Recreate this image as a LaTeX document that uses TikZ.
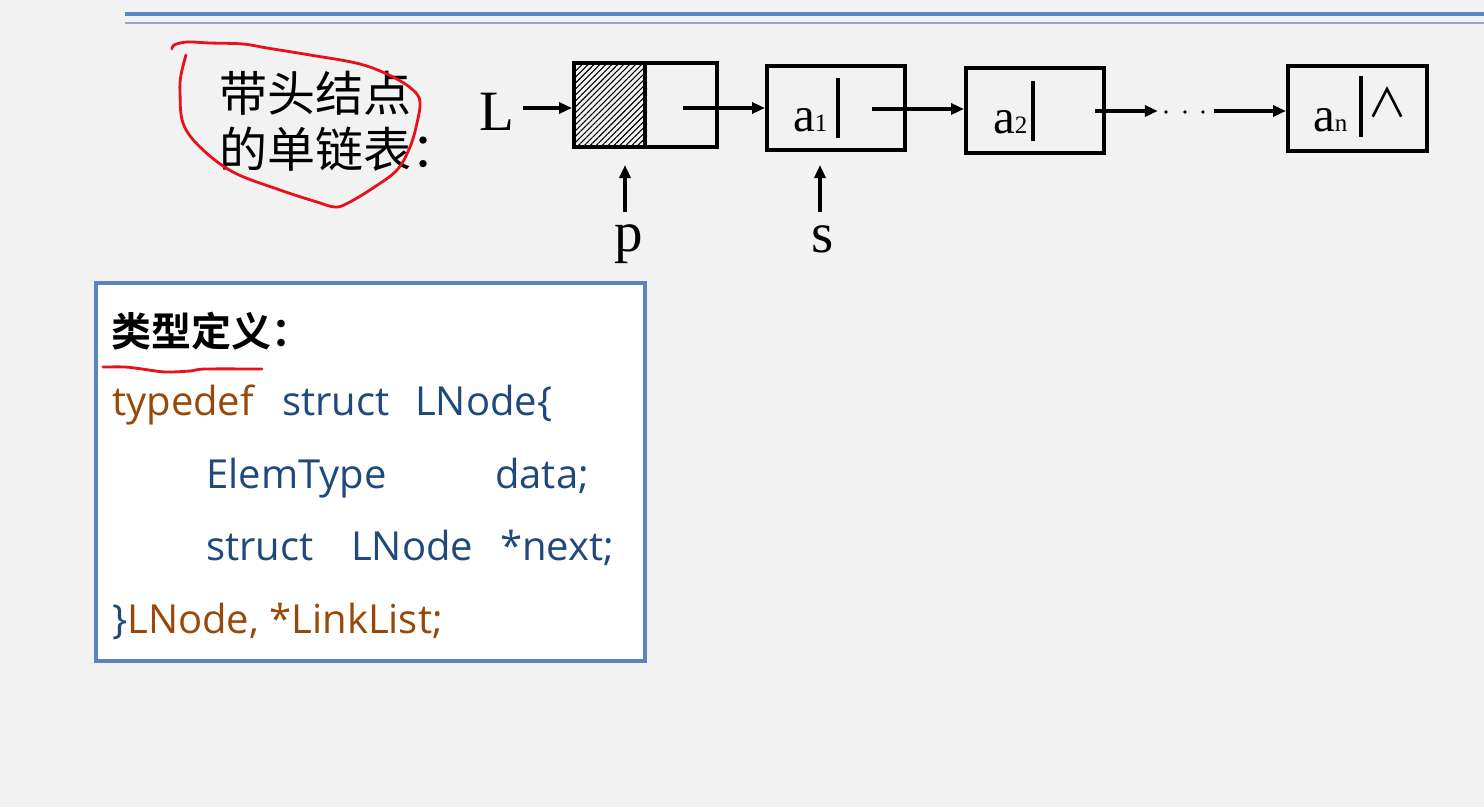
\documentclass[tikz,border=0pt]{standalone}
\usepackage{fontspec}
\usetikzlibrary{arrows.meta,patterns.meta}
\newfontfamily\serif{Liberation Serif}
\newfontfamily\cjk{Noto Sans CJK SC}
\newfontfamily\cjkb{Noto Sans CJK SC Bold}
\newfontfamily\code{Open Sans}
\definecolor{bgc}{HTML}{F2F2F2}
\definecolor{boxblue}{HTML}{5A85C0}
\definecolor{lineblue}{HTML}{5B86C0}
\definecolor{lineblue2}{HTML}{8FAAD2}
\definecolor{kwbrown}{HTML}{984807}
\definecolor{kwblue}{HTML}{1F497D}
\definecolor{inkred}{HTML}{E8101A}
\tikzset{
  cell/.style={draw=black, line width=4pt, minimum height=84pt, inner sep=0pt},
  arr/.style={line width=3.2pt, -{Triangle[length=13pt,width=11pt]}},
  bigserif/.style={inner sep=0pt, font=\serif\fontsize{57}{60}\selectfont},
  dataserif/.style={inner sep=0pt, anchor=base west, font=\serif\fontsize{49}{52}\selectfont},
  barline/.style={line width=3.5pt},
  cjktext/.style={inner sep=0pt, anchor=west, font=\cjk\fontsize{48}{52}\selectfont},
  codeb/.style={inner sep=0pt, anchor=base west, text=kwblue, font=\code\fontsize{40}{44}\selectfont},
  coder/.style={inner sep=0pt, anchor=base west, text=kwbrown, font=\code\fontsize{40}{44}\selectfont},
  redink/.style={draw=inkred, line width=2.8pt, line cap=round, line join=round},
}
\newcommand{\sbs}[1]{{\fontsize{25}{27}\selectfont #1}}
\begin{document}
\begin{tikzpicture}[x=1pt,y=-1pt]
\fill[bgc] (0,0) rectangle (1484,807);
\useasboundingbox (0,0) rectangle (1484,807);
% top rules
\draw[lineblue, line width=3.5pt] (125,14) -- (1484,14);
\draw[lineblue2, line width=2.5pt] (125,23) -- (1484,23);

% title text
\node[cjktext] (t1) at (219,93) {带头结点};
\node[cjktext] (t2) at (219,149) {的单链表：};

% list nodes
\node[bigserif, anchor=base] (L) at (497,130) {L};
\node[cell, minimum width=143pt,
  path picture={\fill[pattern={Lines[angle=45,distance=4.2pt,line width=1.1pt]}]
     (path picture bounding box.north west) rectangle ([xshift=73pt]path picture bounding box.south west);}]
  (head) at (645.5,105) {};
\draw[line width=4pt] ([xshift=73pt]head.north west) -- ([xshift=73pt]head.south west);

\node[cell, minimum width=138pt] (a1) at (836,108) {};
\node[dataserif] (a1t) at (793,131) {a\sbs{1}};
\draw[barline] (838,78) -- (838,138);

\node[cell, minimum width=138pt, minimum height=85pt] (a2) at (1035,110.5) {};
\node[dataserif] (a2t) at (993,133) {a\sbs{2}};
\draw[barline] (1033,81) -- (1033,141);

\node[inner sep=0pt, minimum width=56pt, minimum height=10pt] (dots) at (1186,111) {};
\fill (1166,112) circle (1.8) (1185,112) circle (1.8) (1203,112) circle (1.8);

\node[cell, minimum width=139pt, minimum height=85pt] (an) at (1357.5,108.5) {};
\node[dataserif] (ant) at (1313,131) {a\sbs{n}};
\draw[barline] (1361,76) -- (1361,137);
\node[inner sep=0pt, font=\cjk\fontsize{40}{44}\selectfont] (nil) at (1387,102) {∧};

% pointers
\coordinate (Ls) at (523,108);
\coordinate (hs) at (683,108);
\coordinate (a1s) at (872,109);
\coordinate (a2s) at (1095,111);
\draw[arr] (Ls) -- (Ls -| head.west);
\draw[arr] (hs) -- (hs -| a1.west);
\draw[arr] (a1s) -- (a1s -| a2.west);
\draw[arr] (a2s) -- (a2s -| dots.west);
\draw[arr] (dots.east) -- (dots.east -| an.west);

% p and s
\node[bigserif, anchor=base] (p) at (629,251) {p};
\node[bigserif, anchor=base] (s) at (823,252) {s};
\coordinate (ps) at (625,212);
\coordinate (pt) at (625,165);
\coordinate (ss) at (820,212);
\coordinate (st) at (820,165);
\draw[arr] (ps) -- (pt);
\draw[arr] (ss) -- (st);

% red freehand loop
\draw[redink] plot[smooth, tension=0.6] coordinates {
 (186,55) (181,75) (180,92) (183,123) (200,147) (233,172) (280,190)
 (317,202) (335,207) (348,203) (373,188) (397,170) (410,147) (417,123)
 (420,102) (413,90) (393,77) (360,64) (310,55) (267,48) (243,44)
 (210,43) (187,42) (174,45) (172,49)};

% code box
\node[draw=boxblue, line width=3.5pt, fill=white, minimum width=549pt, minimum height=378pt, inner sep=0pt] (box) at (370.5,472) {};
\node[inner sep=0pt, anchor=west, font=\cjkb\fontsize{40}{44}\selectfont] (def) at (111,331) {类型定义：};
\draw[redink] plot[smooth, tension=0.5] coordinates {(103,367) (125,367) (142,369) (165,372) (190,371) (205,369) (262,369)};

\node[coder] (c1) at (112,415) {typedef};
\node[codeb] (c2) at (282,415) {struct};
\node[codeb] (c3) at (415,415) {LNode\{};
\node[codeb] (c4) at (206,488) {ElemType};
\node[codeb] (c5) at (495,488) {data;};
\node[codeb] (c6) at (206,560) {struct};
\node[codeb] (c7) at (351,560) {LNode};
\node[codeb] (c8) at (500,560) {*next;};
\node[codeb] (c9) at (112,633) {\}\textcolor{kwbrown}{LNode, *LinkList;}};
\end{tikzpicture}
\end{document}
